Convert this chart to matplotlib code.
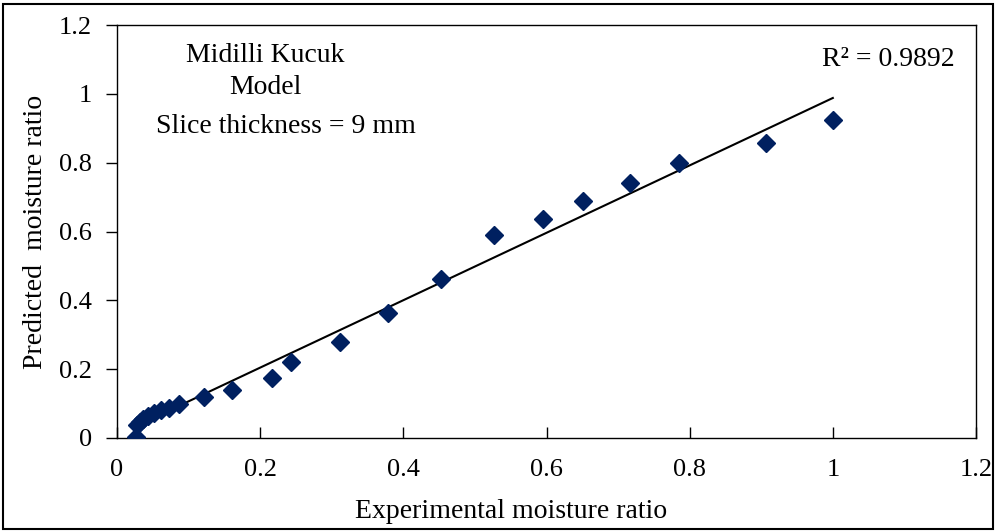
import numpy as np
import matplotlib
matplotlib.use("Agg")
import matplotlib.pyplot as plt
from matplotlib.patches import Rectangle

experimental = [1.000, 0.907, 0.785, 0.717, 0.651, 0.595, 0.526, 0.453, 0.379, 0.312,
                0.243, 0.216, 0.160, 0.122, 0.087, 0.072, 0.062, 0.052, 0.044, 0.036,
                0.032, 0.028, 0.027]
predicted = [0.925, 0.858, 0.800, 0.742, 0.689, 0.636, 0.590, 0.461, 0.362, 0.280,
             0.222, 0.175, 0.140, 0.120, 0.099, 0.088, 0.082, 0.073, 0.064, 0.055,
             0.047, 0.038, 0.003]
ticks = [0, 0.2, 0.4, 0.6, 0.8, 1, 1.2]
tick_labels = ["0", "0.2", "0.4", "0.6", "0.8", "1", "1.2"]

plt.rcParams['font.family'] = ['Liberation Serif', 'DejaVu Serif']

fig = plt.figure(figsize=(9.96, 5.31), dpi=100)
ax = fig.add_axes([117/996, 1-438/531, (976-117)/996, (438-25)/531])

x = np.array(experimental)
y = np.array(predicted)
a, b = np.polyfit(x, y, 1)
xl = np.array([x.min(), x.max()])
ax.plot(xl, a*xl + b, color='black', lw=1.5, zorder=2)
ax.plot(x, y, linestyle='none', marker='D', ms=9, color='#002060', zorder=3)

ax.set_xlim(0, 1.2)
ax.set_ylim(0, 1.2)
ax.set_xticks(ticks)
ax.set_xticklabels(tick_labels)
ax.set_yticks(ticks)
ax.set_yticklabels(tick_labels)
ax.tick_params(axis='x', direction='in', length=8, labelsize=19, pad=15, width=1)
ax.tick_params(axis='y', direction='out', length=8, labelsize=19, pad=10, width=1)
for s in ax.spines.values():
    s.set_linewidth(1)
    s.set_color('black')

fig.text(511/996, 1-512/531, "Experimental moisture ratio", fontsize=20, ha='center', va='center')
fig.text(36/996, 1-232/531, "Predicted  moisture ratio", fontsize=20, ha='center', va='center',
         rotation=90)

ax.text(0.207, 1.11, "Midilli Kucuk", ha='center', va='center', fontsize=20)
ax.text(0.207, 1.017, "Model", ha='center', va='center', fontsize=20)
ax.text(0.236, 0.906, "Slice thickness = 9 mm", ha='center', va='center', fontsize=20)
ax.text(1.078, 1.10, "R² = 0.9892", ha='center', va='center', fontsize=20)

fig.patches.append(Rectangle((3/996, 2/531), 990/996, 525/531, transform=fig.transFigure,
                             fill=False, edgecolor='black', lw=1.5))

fig.savefig("out.png", dpi=100)
